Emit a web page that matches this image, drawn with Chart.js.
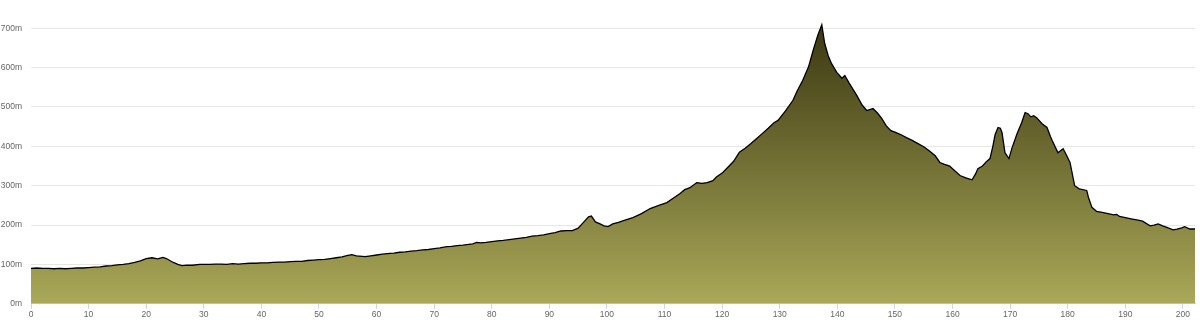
<!DOCTYPE html>
<html>
<head>
<meta charset="utf-8">
<script src="https://cdn.jsdelivr.net/npm/chart.js@4.4.0/dist/chart.umd.min.js"></script>
<style>
  html, body { margin: 0; padding: 0; background: #fff; }
  #wrap { width: 1200px; height: 322px; position: relative; }
</style>
</head>
<body>
<div id="wrap"><canvas id="profileChart"></canvas></div>
<script>
// distance along the route (km) and elevation (m), read from the profile
var distances = [
  0, 1, 2, 3, 4, 5, 6, 7, 8, 9, 10, 11, 12, 13, 14, 15, 16, 17, 18, 19,
  20, 21, 22, 22.9, 23.5, 24.7, 25.5, 26.2, 27, 28, 29.3, 30, 31, 32, 33, 34, 35, 36, 37, 38, 39,
  40, 41, 42, 43, 44, 45, 46, 47, 48, 49, 50, 51, 52, 53, 54, 55, 55.7, 56.5, 58, 59,
  60, 61, 62.3, 63, 64, 65, 66, 67, 68, 69, 70, 71, 72.2, 73, 74, 75, 76, 76.7, 77.4, 78, 79,
  80, 81, 82, 83, 84, 85, 86, 87, 88, 89, 90, 91, 92, 93, 94, 95, 96, 96.8, 97.3, 98, 98.8, 99.5,
  100.2, 101, 102, 103, 104.5, 106, 107.5, 109, 110.4, 111.5, 112.7, 113.5, 114.4, 115.6, 116.5, 117.4, 118.4, 119,
  120, 121, 122, 123, 124, 125, 126, 127, 128, 129, 129.7, 131, 132.3, 133, 134, 135, 135.8, 136.6, 137.3, 137.8, 138.4, 139, 139.9,
  140.8, 141.3, 142, 143.4, 144.3, 145.1, 146.2, 147, 147.7, 148.5, 149.3,
  150, 151, 152, 153, 154, 155, 156, 157, 157.8, 158.5, 159.5,
  160, 161.3, 162.3, 163.4, 164, 164.4, 165.2, 165.8, 166.5, 167, 167.4, 167.9, 168.3, 168.6, 169.1, 169.8,
  170.3, 171.2, 172, 172.6, 173.1, 173.6, 174.1, 174.6, 175.5, 176.4, 177, 177.3, 178.3, 179.2, 179.7,
  180.4, 181.2, 182, 183.3, 183.6, 184.2, 185, 186, 187, 188, 188.5, 189,
  190, 191, 192, 193, 194.3, 195, 195.7, 196.5, 197.2, 198.3, 199, 199.8, 200.3, 201.2, 202.1
];
var elevations = [
  90, 91, 90, 90, 89, 90, 89, 90, 91, 91, 92, 93, 94, 96, 97, 99, 100, 102, 105, 109,
  115, 117, 114, 118, 115, 105, 100, 97, 98, 98, 100, 100, 100, 101, 101, 100, 102, 101, 102, 103, 103,
  104, 104, 105, 106, 106, 107, 108, 108, 110, 111, 112, 113, 115, 117, 119, 123, 125, 122, 120, 122,
  124, 126, 128, 129, 131, 132, 134, 135, 137, 138, 140, 142, 145, 146, 148, 149, 151, 152, 156, 155, 156,
  158, 160, 161, 163, 165, 167, 169, 172, 173, 175, 178, 181, 185, 186, 186, 192, 208, 221, 223, 208, 203, 198,
  196, 203, 207, 212, 219, 229, 242, 250, 257, 268, 280, 290, 295, 308, 306, 308, 313, 322,
  332, 347, 362, 385, 395, 407, 420, 433, 446, 460, 466, 490, 517, 540, 568, 602, 644, 682, 709, 662, 631, 610, 588,
  573, 580, 562, 529, 505, 491, 496, 484, 471, 452, 440,
  436, 430, 422, 415, 407, 399, 388, 376, 359, 355, 350,
  343, 326, 320, 315, 330, 343, 350, 360, 369, 400, 430, 448, 446, 435, 384, 369,
  395, 432, 460, 486, 483, 475, 478, 473, 458, 448, 425, 415, 384, 394, 380,
  359, 300, 292, 288, 270, 245, 235, 232, 229, 226, 227, 222,
  219, 216, 213, 210, 198, 200, 203, 198, 194, 188, 190, 193, 196, 190, 190
];
var yTicks = [0, 100, 200, 300, 400, 500, 600, 700];
var xTicks = [0, 10, 20, 30, 40, 50, 60, 70, 80, 90, 100, 110, 120, 130, 140, 150, 160, 170, 180, 190, 200];

var points = distances.map(function(d, i) { return { x: d, y: elevations[i] }; });

var tickFont = { family: 'Liberation Sans', size: 8.5 };

new Chart(document.getElementById('profileChart'), {
  type: 'line',
  data: {
    datasets: [{
      data: points,
      borderColor: '#000',
      borderWidth: 1.3,
      pointRadius: 0,
      tension: 0,
      fill: 'origin',
      backgroundColor: function(ctx) {
        var area = ctx.chart.chartArea;
        if (!area) return 'rgb(140,138,70)';
        var g = ctx.chart.ctx.createLinearGradient(0, area.top, 0, area.bottom);
        g.addColorStop(0, 'rgb(55,52,15)');
        g.addColorStop(1, 'rgb(170,168,88)');
        return g;
      }
    }]
  },
  options: {
    responsive: true,
    maintainAspectRatio: false,
    animation: false,
    layout: { padding: { top: 3, right: 5, left: 0, bottom: 1 } },
    plugins: { legend: { display: false }, tooltip: { enabled: false } },
    scales: {
      x: {
        type: 'linear',
        min: 0,
        max: 202.1,
        afterBuildTicks: function(scale) {
          scale.ticks = xTicks.map(function(v) { return { value: v }; });
        },
        grid: { drawOnChartArea: false, drawTicks: true, tickLength: 5, color: '#ccd6eb' },
        border: { color: '#ccd6eb' },
        ticks: { color: '#666', font: tickFont, padding: 1, maxRotation: 0 }
      },
      y: {
        min: 0,
        max: 736,
        afterBuildTicks: function(scale) {
          scale.ticks = yTicks.map(function(v) { return { value: v }; });
        },
        afterFit: function(scale) { scale.width = 31; },
        grid: { color: '#e6e6e6', drawTicks: false },
        border: { display: false },
        ticks: {
          color: '#666', font: tickFont, padding: 9,
          callback: function(v) { return v + 'm'; }
        }
      }
    }
  }
});
</script>
</body>
</html>
